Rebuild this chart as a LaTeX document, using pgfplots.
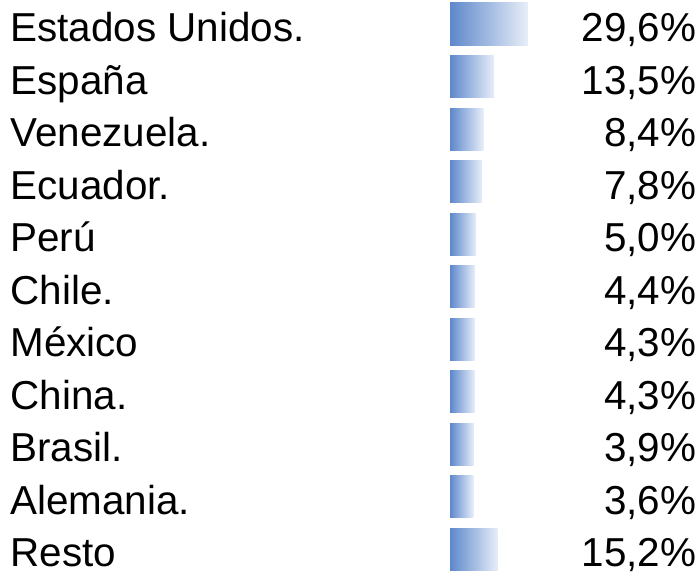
\documentclass[border=0pt]{standalone}
\usepackage{fontspec}
\setmainfont{Liberation Sans}
\usepackage{pgfplots}
\usepackage{pgfplotstable}
\pgfplotsset{compat=1.18}
\definecolor{barL}{RGB}{94,136,202}
\definecolor{barR}{RGB}{232,238,248}
\pgfplotstableread[col sep=semicolon]{
idx;value;name
0;29.6;Estados Unidos.
1;13.5;España
2;8.4;Venezuela.
3;7.8;Ecuador.
4;5.0;Perú
5;4.4;Chile.
6;4.3;México
7;4.3;China.
8;3.9;Brasil.
9;3.6;Alemania.
10;15.2;Resto
}\datatable
\begin{document}
\begin{tikzpicture}
\begin{axis}[
  scale only axis,
  width=350pt, height=287pt,
  hide axis,
  clip=false,
  xmin=-214.3, xmax=119.05,
  ymin=-0.457, ymax=10.476,
  y dir=reverse,
  font=\fontsize{20.2}{24}\selectfont,
  gbar/.style={xbar, bar width=0.8, draw=none, left color=barL, right color=barR,
    x filter/.expression={x+7.48}},
]
\draw[draw=none] (rel axis cs:0,0) rectangle (rel axis cs:1,1);
\addplot[gbar] coordinates {(29.6,0)};
\addplot[gbar] coordinates {(13.5,1)};
\addplot[gbar] coordinates {(8.4,2)};
\addplot[gbar] coordinates {(7.8,3)};
\addplot[gbar] coordinates {(5.0,4)};
\addplot[gbar] coordinates {(4.4,5)};
\addplot[gbar] coordinates {(4.3,6)};
\addplot[gbar] coordinates {(4.3,7)};
\addplot[gbar] coordinates {(3.9,8)};
\addplot[gbar] coordinates {(3.6,9)};
\addplot[gbar] coordinates {(15.2,10)};
\addplot[draw=none, mark=none, nodes near coords,
  point meta=explicit symbolic,
  every node near coord/.style={anchor=base west, inner sep=0pt, yshift=-8.9pt, font=\fontsize{20.2}{24}\selectfont}]
  table[x expr=-209.5, y=idx, meta=name] {\datatable};
\addplot[draw=none, mark=none,
  nodes near coords={\pgfmathprintnumber[fixed, fixed zerofill, precision=1, use comma, assume math mode=true]{\pgfplotspointmeta}\%},
  point meta=explicit,
  every node near coord/.style={anchor=base east, inner sep=0pt, yshift=-8.9pt, font=\fontsize{20.2}{24}\selectfont}]
  table[x expr=117.5, y=idx, meta=value] {\datatable};
\end{axis}
\end{tikzpicture}
\end{document}
